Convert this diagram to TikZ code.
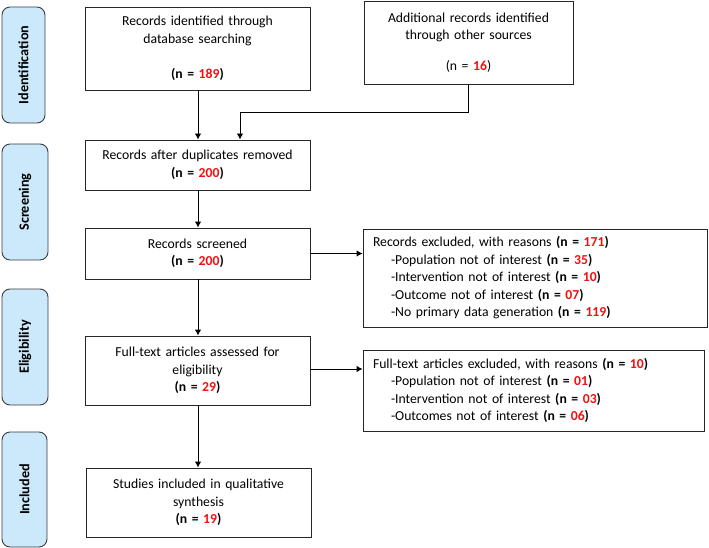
\documentclass[tikz,border=0pt]{standalone}
\usepackage{fontspec}
\setmainfont{Carlito}
\usetikzlibrary{arrows.meta}
\definecolor{nred}{RGB}{245,15,15}
\definecolor{tabblue}{RGB}{204,233,251}
\definecolor{tabline}{RGB}{60,60,60}
\newcommand{\nval}[1]{\textbf{(n = \textcolor{nred}{#1})}}
\newcommand{\nvalplain}[1]{(n = \textbf{\textcolor{nred}{#1}})}
\begin{document}
\begin{tikzpicture}[x=1pt,y=-1pt,
  font=\fontsize{13.7}{17.5}\selectfont,
  box/.style={draw=black!85, line width=0.9pt, align=center, inner sep=0pt, text width=#1},
  box/.default=220pt,
  exbox/.style={draw=black!85, line width=0.9pt, align=left, inner sep=0pt},
  tab/.style={draw=tabline, fill=tabblue, line width=0.9pt, rounded corners=8pt, rotate=90,
    font=\fontsize{14.2}{16}\selectfont\bfseries, inner sep=0pt},
  arr/.style={draw=black, line width=0.9pt, -{Latex[length=6pt,width=6.5pt]}}
]
\useasboundingbox (0,0) rectangle (709,548);

% phase tabs
\node[tab, minimum width=116pt, minimum height=43pt] (t1) at (23.5,65) {Identification};
\node[tab, minimum width=116pt, minimum height=46pt] (t2) at (25,202) {Screening};
\node[tab, minimum width=116pt, minimum height=46pt] (t3) at (25,347) {Eligibility};
\node[tab, minimum width=115pt, minimum height=45pt] (t4) at (24.5,489.5) {Included};

% main boxes
\node[box, minimum width=225pt, minimum height=83pt] (b1) at (197.5,48.5)
  {Records identified through\\database searching\\[18pt]\nval{189}};
\node[box=205pt, minimum width=209pt, minimum height=83pt] (b2) at (468.5,42.5)
  {Additional records identified\\through other sources\\[13pt]\nvalplain{16}};
\node[box, minimum width=225pt, minimum height=50pt] (b3) at (197.5,165)
  {Records after duplicates removed\\\nval{200}};
\node[box, minimum width=225pt, minimum height=51pt] (b4) at (197.5,253.5)
  {Records screened\\\nval{200}};
\node[box, minimum width=225pt, minimum height=69pt] (b5) at (197.5,370.5)
  {Full-text articles assessed for\\eligibility\\\nval{29}};
\node[box, minimum width=225pt, minimum height=69pt] (b6) at (198.5,502.5)
  {Studies included in qualitative\\synthesis\\\nval{19}};

% exclusion boxes
\node[exbox, minimum width=344pt, minimum height=98pt, text width=324pt] (e1) at (535,278)
  {Records excluded, with reasons \nval{171}\\
   \hspace*{18pt}-Population not of interest \nval{35}\\
   \hspace*{18pt}-Intervention not of interest \nval{10}\\
   \hspace*{18pt}-Outcome not of interest \nval{07}\\
   \hspace*{18pt}-No primary data generation \nval{119}};
\node[exbox, minimum width=341pt, minimum height=81pt, text width=321pt] (e2) at (533.5,390.5)
  {Full-text articles excluded, with reasons \nval{10}\\
   \hspace*{18pt}-Population not of interest \nval{01}\\
   \hspace*{18pt}-Intervention not of interest \nval{03}\\
   \hspace*{18pt}-Outcomes not of interest \nval{06}};

% connectors
\coordinate (j1) at (b2.south |- 0,112);
\coordinate (j2) at (240,112);
\draw[arr] (b1.south -| 198,0) -- (b3.north -| 198,0);
\draw[arr] (b2.south) -- (j1) -- (j2) -- (j2 |- b3.north);
\draw[arr] (b3.south -| 198,0) -- (b4.north -| 198,0);
\draw[arr] (b4.south -| 198,0) -- (b5.north -| 198,0);
\draw[arr] (b5.south -| 198,0) -- (b6.north -| 198,0);
\draw[arr] (b4.east) -- (b4.east -| e1.west);
\draw[arr] (b5.east |- 0,369) -- (e2.west |- 0,369);
\end{tikzpicture}
\end{document}
